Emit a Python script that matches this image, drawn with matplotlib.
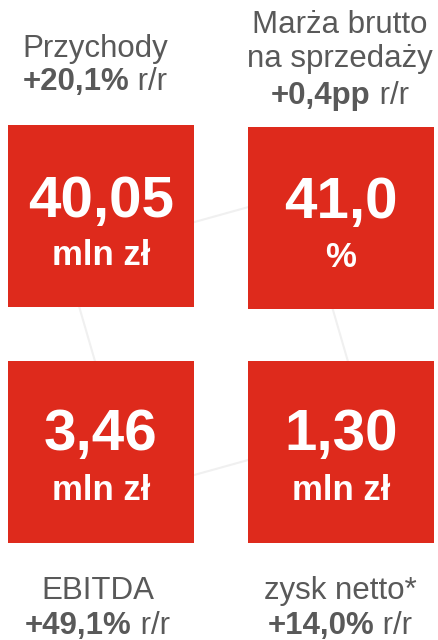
import matplotlib
matplotlib.use("Agg")
import matplotlib.pyplot as plt
from matplotlib.patches import Rectangle

# ---- data ----
values = ["40,05", "41,0", "3,46", "1,30"]
units = ["mln zł", "%", "mln zł", "mln zł"]
titles = [["Przychody"], ["Marża brutto", "na sprzedaży"], ["EBITDA"], ["zysk netto*"]]
changes = ["+20,1%", "+0,4pp", "+49,1%", "+14,0%"]
change_suffix = [" r/r", " r/r", " r/r", " r/r"]

RED = "#DE2A1C"
GRAY = "#595959"
LINE = "#F0F0F0"
FONT = "Liberation Sans"

W, H = 439, 640
fig = plt.figure(figsize=(W / 100, H / 100), dpi=100)
ax = fig.add_axes([0, 0, 1, 1])
ax.set_xlim(0, W)
ax.set_ylim(H, 0)
ax.axis("off")

# background network lines (parallelogram behind the boxes)
nodes = [(65, 258), (299, 193), (367, 427), (133, 492), (65, 258)]
ax.plot([p[0] for p in nodes], [p[1] for p in nodes], color=LINE, lw=1.5, zorder=1,
        solid_capstyle="round")

# box layout
boxes = [(8, 125), (248, 126.7), (8, 361), (248, 361)]
bw, bh = 186, 182
val_base = [216.7, 218.3, 450, 450]
unit_base = [265, 266.7, 500, 500]
cx = [101, 341, 101, 341]

for i, (x0, y0) in enumerate(boxes):
    ax.add_patch(Rectangle((x0, y0), bw, bh, facecolor=RED, edgecolor="none", zorder=2))
    ax.text(cx[i], val_base[i], values[i], color="white", fontsize=42, fontweight="bold",
            family=FONT, ha="center", va="baseline", zorder=3)
    ax.text(cx[i], unit_base[i], units[i], color="white", fontsize=25, fontweight="bold",
            family=FONT, ha="center", va="baseline", zorder=3)

# title labels
title_cx = [95, 340, 97.5, 340]
title_base = [[56.7], [33, 66.7], [599], [599]]
change_base = [90, 104, 634, 634]
FS = 22.5

fig.canvas.draw()
renderer = fig.canvas.get_renderer()

for i in range(4):
    for line, yb in zip(titles[i], title_base[i]):
        ax.text(title_cx[i], yb, line, color=GRAY, fontsize=FS, family=FONT,
                ha="center", va="baseline", zorder=3)
    t1 = ax.text(0, change_base[i], changes[i], color=GRAY, fontsize=FS, fontweight="bold",
                 family=FONT, ha="left", va="baseline", zorder=3)
    t2 = ax.text(0, change_base[i], change_suffix[i], color=GRAY, fontsize=FS,
                 family=FONT, ha="left", va="baseline", zorder=3)
    w1 = t1.get_window_extent(renderer).width
    w2 = t2.get_window_extent(renderer).width
    # 1 data unit = 1 pixel
    start = title_cx[i] - (w1 + w2) / 2
    t1.set_x(start)
    t2.set_x(start + w1)

fig.savefig("out.png", dpi=100, facecolor="white")
